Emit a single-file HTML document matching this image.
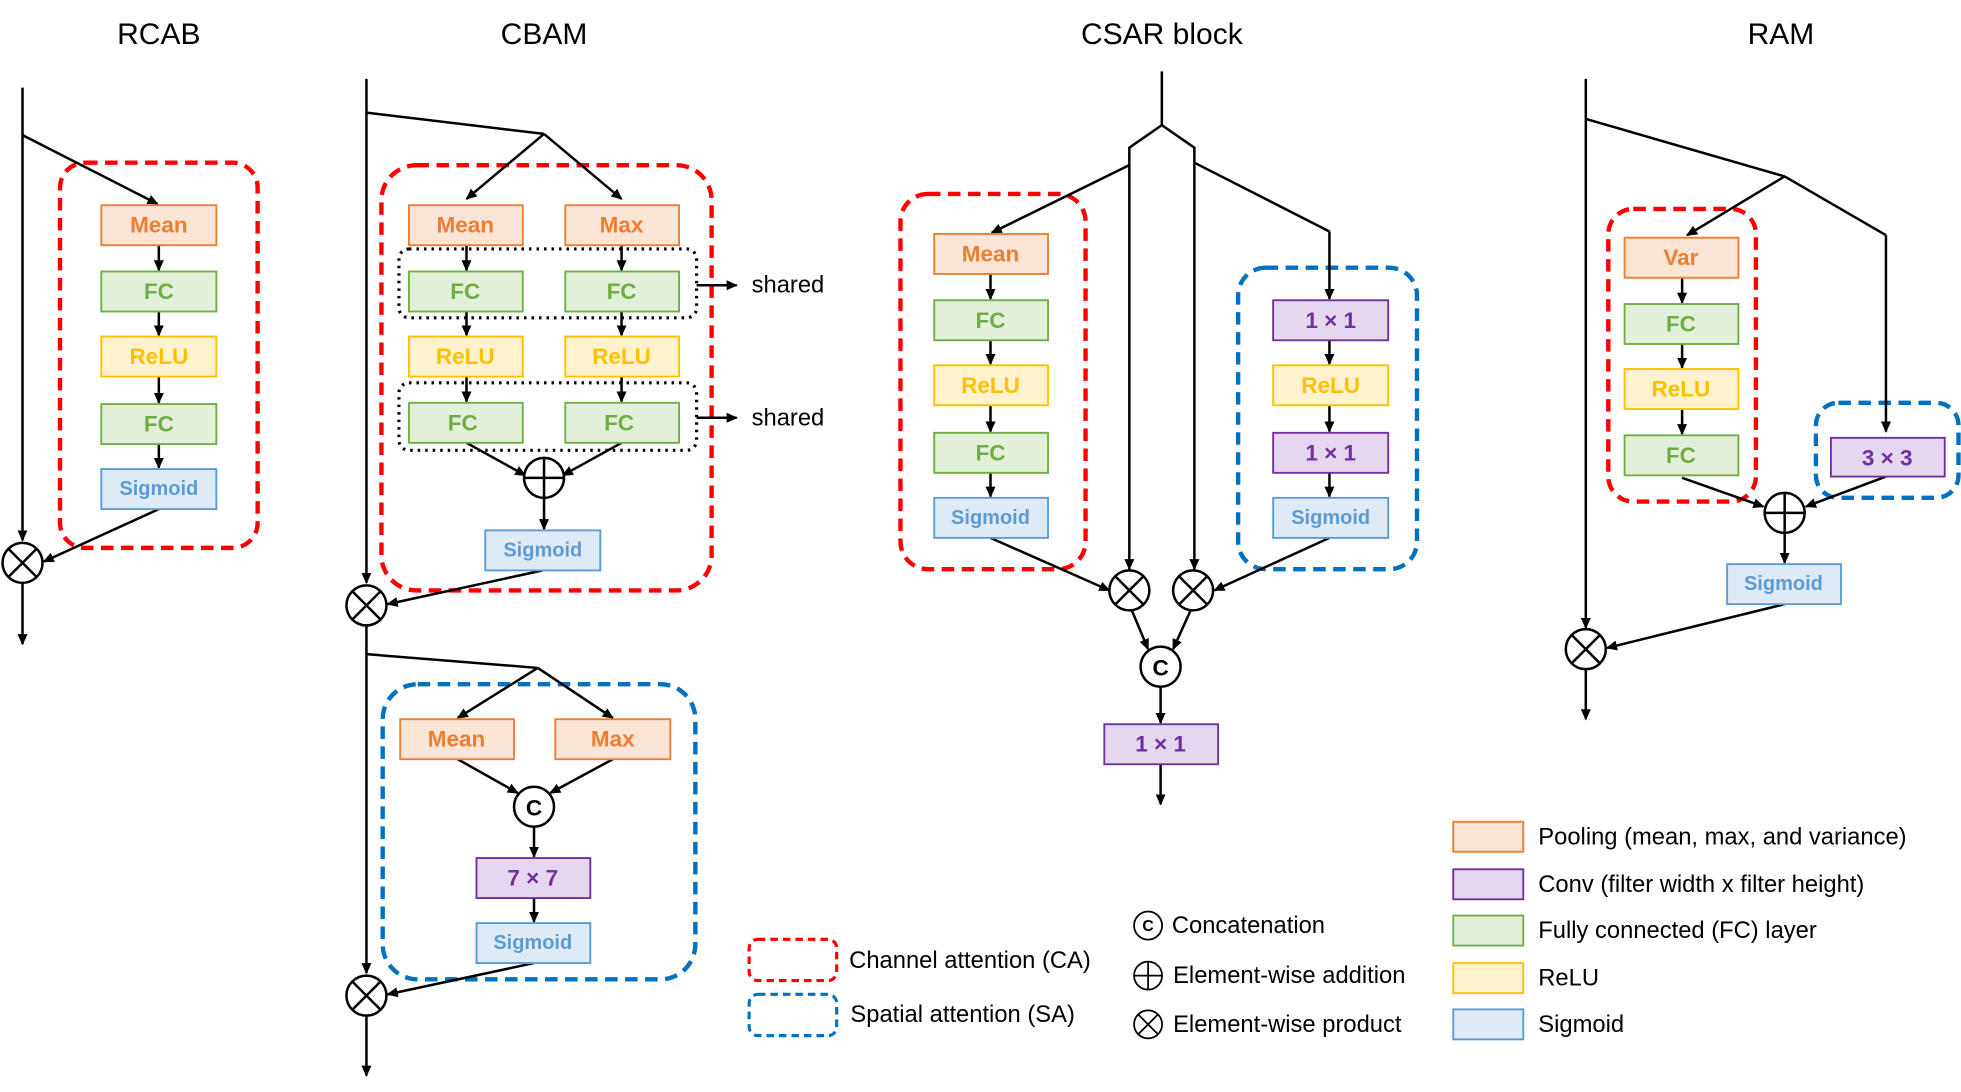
<!DOCTYPE html>
<html><head><meta charset="utf-8"><style>
html,body{margin:0;padding:0;background:#fff;}
svg{display:block;}
text{font-family:"Liberation Sans",sans-serif;}
.bt{font-weight:bold;font-size:18px;text-anchor:middle;dominant-baseline:central;}
.o rect{fill:#fbe5d6;stroke:#ed7d31;stroke-width:1.5}.o text{fill:#ed7d31}
.g rect{fill:#e2f0d9;stroke:#70ad47;stroke-width:1.5}.g text{fill:#70ad47}
.y rect{fill:#fff2cc;stroke:#ffc000;stroke-width:1.5}.y text{fill:#ffc000}
.b rect{fill:#deebf7;stroke:#5b9bd5;stroke-width:1.5}.b text{fill:#5b9bd5;font-size:16px}
.p rect{fill:#e4d7ef;stroke:#7030a0;stroke-width:1.5}.p text{fill:#7030a0}
.l{stroke:#000;stroke-width:2;fill:none}
.la{stroke:#000;stroke-width:2;fill:none;marker-end:url(#ah)}
.red{fill:none;stroke:#ff0000;stroke-width:3.5;stroke-dasharray:10 6}
.blu{fill:none;stroke:#0070c0;stroke-width:3.5;stroke-dasharray:10 6}
.dot{fill:none;stroke:#000;stroke-width:2.5;stroke-dasharray:2 4}
.ti{font-size:24px;text-anchor:middle}
.lg{font-size:19px;dominant-baseline:central}
</style></head><body>
<svg width="1961" height="1092" viewBox="0 0 1568 873" xmlns="http://www.w3.org/2000/svg">
<defs>
<marker id="ah" markerWidth="10" markerHeight="10" refX="8" refY="4" orient="auto" markerUnits="userSpaceOnUse"><path d="M0,0 L9,4 L0,8 z" fill="#000"/></marker>
<g id="ot"><circle r="16" fill="#fff" stroke="#000" stroke-width="2"/><path d="M-11.3,-11.3L11.3,11.3M-11.3,11.3L11.3,-11.3" stroke="#000" stroke-width="2"/></g>
<g id="op"><circle r="16" fill="#fff" stroke="#000" stroke-width="2"/><path d="M-16,0H16M0,-16V16" stroke="#000" stroke-width="2"/></g>
<g id="cc"><circle r="16" fill="#fff" stroke="#000" stroke-width="2"/><text x="0" y="1" font-weight="bold" font-size="18" text-anchor="middle" dominant-baseline="central" font-family="Liberation Sans">C</text></g>
</defs>
<text class="ti" x="127" y="35">RCAB</text>
<text class="ti" x="435" y="35">CBAM</text>
<text class="ti" x="929" y="35">CSAR block</text>
<text class="ti" x="1424" y="35">RAM</text>

<!-- RCAB -->
<rect class="red" x="48" y="130" width="158" height="308" rx="20"/>
<path class="la" d="M18,70V432"/><path class="la" d="M18,466V515"/>
<path class="la" d="M18,108L126,163"/>
<path class="la" d="M127,196V216"/><path class="la" d="M127,249V268"/><path class="la" d="M127,301V322"/><path class="la" d="M127,355V374"/>
<path class="la" d="M127,407L35,449"/>
<g class="o"><rect x="81" y="164" width="92" height="32"/><text class="bt" x="127" y="180">Mean</text></g>
<g class="g"><rect x="81" y="217" width="92" height="32"/><text class="bt" x="127" y="233">FC</text></g>
<g class="y"><rect x="81" y="269" width="92" height="32"/><text class="bt" x="127" y="285">ReLU</text></g>
<g class="g"><rect x="81" y="323" width="92" height="32"/><text class="bt" x="127" y="339">FC</text></g>
<g class="b"><rect x="81" y="375" width="92" height="32"/><text class="bt" x="127" y="391">Sigmoid</text></g>
<use href="#ot" x="18" y="450"/>

<!-- CBAM -->
<rect class="red" x="305" y="132" width="264" height="340" rx="28"/>
<path class="la" d="M293,63V466"/><path class="la" d="M293,500V778"/><path class="la" d="M293,812V860"/>
<path class="l" d="M293,90L435,107"/><path class="la" d="M435,107L373,159"/><path class="la" d="M435,107L497,159"/>
<path class="la" d="M373,196V216"/><path class="la" d="M497,196V216"/>
<path class="la" d="M373,249V268"/><path class="la" d="M497,249V268"/>
<path class="la" d="M373,301V321"/><path class="la" d="M497,301V321"/>
<path class="la" d="M373,354L420,380"/><path class="la" d="M497,354L450,380"/>
<path class="la" d="M435,398V423"/>
<path class="la" d="M434,456L310,483"/>
<path class="la" d="M557,228H589"/><path class="la" d="M557,334H589"/>
<text class="lg" x="601" y="228">shared</text><text class="lg" x="601" y="334">shared</text>
<g class="o"><rect x="327" y="164" width="91" height="32"/><text class="bt" x="372" y="180">Mean</text></g>
<g class="o"><rect x="452" y="164" width="91" height="32"/><text class="bt" x="497" y="180">Max</text></g>
<g class="g"><rect x="327" y="217" width="91" height="32"/><text class="bt" x="372" y="233">FC</text></g>
<g class="g"><rect x="452" y="217" width="91" height="32"/><text class="bt" x="497" y="233">FC</text></g>
<g class="y"><rect x="327" y="269" width="91" height="32"/><text class="bt" x="372" y="285">ReLU</text></g>
<g class="y"><rect x="452" y="269" width="91" height="32"/><text class="bt" x="497" y="285">ReLU</text></g>
<g class="g"><rect x="327" y="322" width="91" height="32"/><text class="bt" x="370" y="338">FC</text></g>
<g class="g"><rect x="452" y="322" width="91" height="32"/><text class="bt" x="495" y="338">FC</text></g>
<rect class="dot" x="319" y="199" width="238" height="55" rx="8"/>
<rect class="dot" x="319" y="306" width="238" height="54" rx="8"/>
<use href="#op" x="435" y="382"/>
<g class="b"><rect x="388" y="424" width="92" height="32"/><text class="bt" x="434" y="440">Sigmoid</text></g>
<use href="#ot" x="293" y="484"/>
<rect class="blu" x="306" y="547" width="250" height="236" rx="28"/>
<path class="l" d="M293,523L430,534"/><path class="la" d="M430,534L366,574"/><path class="la" d="M430,534L490,574"/>
<path class="la" d="M366,607L414,634"/><path class="la" d="M490,607L440,634"/>
<path class="la" d="M427,661V685"/><path class="la" d="M427,718V737"/>
<path class="la" d="M427,770L310,795"/>
<g class="o"><rect x="320" y="575" width="91" height="32"/><text class="bt" x="365" y="591">Mean</text></g>
<g class="o"><rect x="444" y="575" width="92" height="32"/><text class="bt" x="490" y="591">Max</text></g>
<use href="#cc" x="427" y="645"/>
<g class="p"><rect x="381" y="686" width="91" height="32"/><text class="bt" x="426" y="702">7 × 7</text></g>
<g class="b"><rect x="381" y="738" width="91" height="32"/><text class="bt" x="426" y="754">Sigmoid</text></g>
<use href="#ot" x="293" y="796"/>

<!-- CSAR -->
<rect class="red" x="720" y="155" width="148" height="300" rx="22"/>
<rect class="blu" x="990" y="214" width="143" height="241" rx="22"/>
<path class="l" d="M929,57V100L903,118V130M929,100L955,118V130"/>
<path class="la" d="M903,130V455"/><path class="la" d="M955,130V455"/>
<path class="la" d="M903,132L793,186"/>
<path class="l" d="M955,130L1063,185"/><path class="la" d="M1063,185V239"/>
<path class="la" d="M792,219V239"/><path class="la" d="M792,272V291"/><path class="la" d="M792,324V345"/><path class="la" d="M792,378V397"/>
<path class="la" d="M1063,272V291"/><path class="la" d="M1063,324V345"/><path class="la" d="M1063,378V397"/>
<path class="la" d="M792,430L887,472"/><path class="la" d="M1063,430L971,472"/>
<path class="la" d="M905,488L918,519"/><path class="la" d="M952,488L938,519"/>
<path class="la" d="M928,549V578"/><path class="la" d="M928,611V643"/>
<g class="o"><rect x="747" y="187" width="91" height="32"/><text class="bt" x="792" y="203">Mean</text></g>
<g class="g"><rect x="747" y="240" width="91" height="32"/><text class="bt" x="792" y="256">FC</text></g>
<g class="y"><rect x="747" y="292" width="91" height="32"/><text class="bt" x="792" y="308">ReLU</text></g>
<g class="g"><rect x="747" y="346" width="91" height="32"/><text class="bt" x="792" y="362">FC</text></g>
<g class="b"><rect x="747" y="398" width="91" height="32"/><text class="bt" x="792" y="414">Sigmoid</text></g>
<g class="p"><rect x="1018" y="240" width="92" height="32"/><text class="bt" x="1064" y="256">1 × 1</text></g>
<g class="y"><rect x="1018" y="292" width="92" height="32"/><text class="bt" x="1064" y="308">ReLU</text></g>
<g class="p"><rect x="1018" y="346" width="92" height="32"/><text class="bt" x="1064" y="362">1 × 1</text></g>
<g class="b"><rect x="1018" y="398" width="92" height="32"/><text class="bt" x="1064" y="414">Sigmoid</text></g>
<use href="#ot" x="903" y="472"/><use href="#ot" x="954" y="472"/>
<use href="#cc" x="928" y="533"/>
<g class="p"><rect x="883" y="579" width="91" height="32"/><text class="bt" x="928" y="595">1 × 1</text></g>

<!-- RAM -->
<rect class="red" x="1286" y="167" width="118" height="234" rx="20"/>
<rect class="blu" x="1452" y="322" width="114" height="76" rx="18"/>
<path class="la" d="M1268,63V502"/><path class="la" d="M1268,535V575"/>
<path class="l" d="M1268,95L1427,141"/><path class="la" d="M1427,141L1349,188"/>
<path class="l" d="M1427,141L1508,188"/><path class="la" d="M1508,188V345"/>
<path class="la" d="M1345,222V242"/><path class="la" d="M1345,275V294"/><path class="la" d="M1345,327V347"/>
<path class="la" d="M1345,382L1410,405"/><path class="la" d="M1508,381L1444,405"/>
<path class="la" d="M1427,426V450"/><path class="la" d="M1427,483L1285,518"/>
<g class="o"><rect x="1299" y="190" width="91" height="32"/><text class="bt" x="1344" y="206">Var</text></g>
<g class="g"><rect x="1299" y="243" width="91" height="32"/><text class="bt" x="1344" y="259">FC</text></g>
<g class="y"><rect x="1299" y="295" width="91" height="32"/><text class="bt" x="1344" y="311">ReLU</text></g>
<g class="g"><rect x="1299" y="348" width="91" height="32"/><text class="bt" x="1344" y="364">FC</text></g>
<g class="p"><rect x="1464" y="350" width="91" height="31"/><text class="bt" x="1509" y="366">3 × 3</text></g>
<use href="#op" x="1427" y="410"/>
<g class="b"><rect x="1381" y="451" width="91" height="32"/><text class="bt" x="1426" y="467">Sigmoid</text></g>
<use href="#ot" x="1268" y="519"/>

<!-- Legend -->
<rect class="red" x="599" y="751" width="70" height="33" rx="7" style="stroke-width:2.5;stroke-dasharray:6 4"/>
<rect class="blu" x="599" y="795" width="70" height="33" rx="7" style="stroke-width:2.5;stroke-dasharray:6 4"/>
<text class="lg" x="679" y="768">Channel attention (CA)</text>
<text class="lg" x="680" y="811">Spatial attention (SA)</text>
<g transform="translate(918,740) scale(0.7)"><use href="#cc"/></g>
<g transform="translate(918,780) scale(0.7)"><use href="#op"/></g>
<g transform="translate(918,819) scale(0.7)"><use href="#ot"/></g>
<text class="lg" x="937" y="740">Concatenation</text>
<text class="lg" x="938" y="780">Element-wise addition</text>
<text class="lg" x="938" y="819">Element-wise product</text>
<g class="o"><rect x="1162" y="657" width="56" height="24"/></g>
<g class="p"><rect x="1162" y="695" width="56" height="24"/></g>
<g class="g"><rect x="1162" y="732" width="56" height="24"/></g>
<g class="y"><rect x="1162" y="770" width="56" height="24"/></g>
<g class="b"><rect x="1162" y="807" width="56" height="24"/></g>
<text class="lg" x="1230" y="669">Pooling (mean, max, and variance)</text>
<text class="lg" x="1230" y="707">Conv (filter width x filter height)</text>
<text class="lg" x="1230" y="744">Fully connected (FC) layer</text>
<text class="lg" x="1230" y="782">ReLU</text>
<text class="lg" x="1230" y="819">Sigmoid</text>
</svg>
</body></html>
